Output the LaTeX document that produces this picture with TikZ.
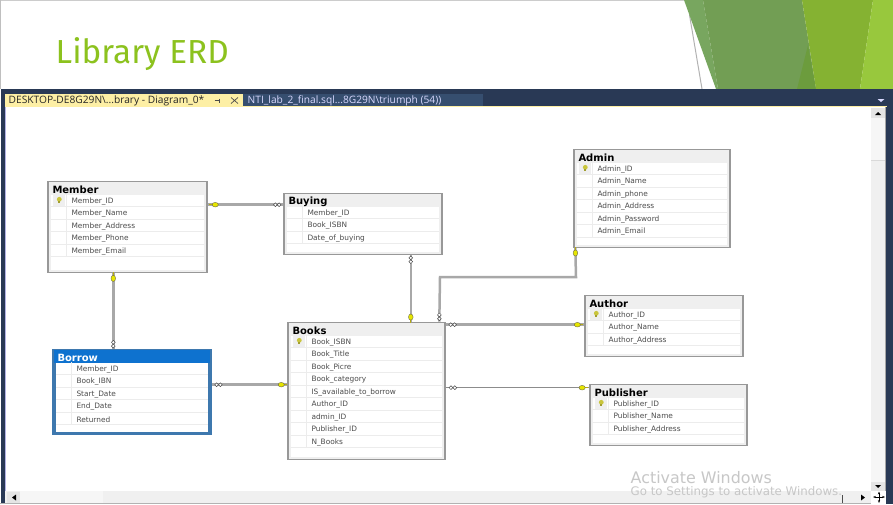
\documentclass[tikz,border=0pt]{standalone}
\usepackage{fontspec}
\setmainfont{Open Sans}
\newfontfamily\headfont{Fira Sans}
\newfontfamily\tablefont{DejaVu Sans}
\usetikzlibrary{arrows.meta}
\definecolor{framecol}{HTML}{293955}
\definecolor{tabcol}{HTML}{FDEFA5}
\definecolor{othertab}{HTML}{364E6F}
\definecolor{titlecol}{HTML}{8CC21E}
\definecolor{tablegray}{HTML}{989898}
\definecolor{chromecol}{HTML}{EFEFEF}
\definecolor{rowline}{HTML}{ECECEC}
\definecolor{relcol}{HTML}{A8A8A8}
\definecolor{keycol}{HTML}{E6E600}
\definecolor{shaftcol}{HTML}{B9AE10}
\definecolor{bulbcol}{HTML}{C9C53C}
\definecolor{selblue}{HTML}{0E72CF}
\definecolor{selborder}{HTML}{3E78AE}
\definecolor{scrollcol}{HTML}{F0F0F0}
\definecolor{greena}{HTML}{78A65F}
\definecolor{greenb}{HTML}{729E54}
\definecolor{greenc}{HTML}{85B232}
\definecolor{greend}{HTML}{98C83D}
\definecolor{greene}{HTML}{6C9C3D}
\tikzset{
	tablebox/.style={draw=tablegray,line width=1.4pt,fill=chromecol,rectangle,inner sep=0pt,anchor=north west},
	tabletitle/.style={font=\tablefont\fontsize{10}{10}\selectfont\bfseries,inner sep=0pt,anchor=west,text=black},
	selectedbox/.style={draw=selborder,fill=selborder,path picture={\fill[selblue] (path picture bounding box.north west) rectangle ([yshift=-14pt]path picture bounding box.north east);}},
	rowtext/.style={font=\tablefont\fontsize{7.4}{7.4}\selectfont,inner sep=0pt,anchor=west,text=black!70},
	relline/.style={draw=relcol,line width=2.5pt},
	tabtext/.style={font=\fontsize{10.2}{10.2}\selectfont,inner sep=0pt,anchor=west},
	watermark/.style={font=\tablefont,inner sep=0pt,anchor=west,text=black!22},
	keyend/.pic={
		\draw[draw=shaftcol,line width=1.3pt] (-6,0) -- (0,0);
		\draw[draw=black!65!yellow,line width=.4pt,fill=keycol] (0,0) ellipse (3.1 and 2.3);
	},
	manyend/.pic={
		\draw[draw=black!70,line width=.5pt,fill=white] (-1.9,0) circle (1.9);
		\draw[draw=black!70,line width=.5pt,fill=white] (1.9,0) circle (1.9);
	},
}
% name, x, y, width, height, title, rows, title colour, extra style
\newcommand{\ertable}[9]{
	\node (#1) [tablebox,#9,minimum width=#4pt,minimum height=#5pt] at (#2-.7,#3-.3) {};
	\fill[white] ([shift={(3.5,14)}]#1.north west) rectangle ([shift={(-3.5,-3.5)}]#1.south east);
	\node (#1title) [tabletitle,text=#8] at ([shift={(5,8.8)}]#1.north west) {#6};
	\foreach \rowlabel [count=\rowidx] in {#7} {
		\node (#1r\rowidx) [rowtext] at ([shift={(24,\rowidx*12.5+8.3)}]#1.north west) {\rowlabel};
		\draw[rowline,line width=.5pt] ([shift={(3.5,\rowidx*12.5+13.5)}]#1.north west) -- ([shift={(-3.5,\rowidx*12.5+13.5)}]#1.north east);
		\draw[rowline,line width=.5pt] ([shift={(19,\rowidx*12.5+1)}]#1.north west) -- ([shift={(19,\rowidx*12.5+13.5)}]#1.north west);
	}
}
% primary key mark in the first row
\newcommand{\keymark}[1]{
	\fill[chromecol] ([shift={(6,14.5)}]#1.north west) rectangle ([shift={(18,25)}]#1.north west);
	\fill[bulbcol] ([shift={(12,18.6)}]#1.north west) circle (2.4);
	\fill[bulbcol!80!black] ([shift={(11,20)}]#1.north west) rectangle ([shift={(13,22.6)}]#1.north west);
}

\begin{document}
\begin{tikzpicture}[x=1pt,y=-1pt]
	\useasboundingbox (0,0) rectangle (893,504);
	\fill[white] (0,0) rectangle (893,504);
	\fill[black!20] (0,0) rectangle (893,1);
	\fill[black!25] (0,0) rectangle (1,89);

	% green corner
	\fill[black!30] (689,15) -- (701.5,89) -- (702.5,89) -- (690,15) -- cycle;
	\fill[greena] (684,0) -- (703,0) -- (718,89) -- (716,89) -- cycle;
	\fill[greenb] (703,0) -- (802,0) -- (816,89) -- (718,89) -- cycle;
	\fill[greene] (808,45) -- (816,89) -- (797,89) -- cycle;
	\fill[greenc] (802,0) -- (873,0) -- (860,89) -- (816,89) -- cycle;
	\fill[greend] (873,0) -- (893,0) -- (893,89) -- (860,89) -- cycle;

	\node (slidetitle) [font=\headfont\fontsize{33.3}{33.3}\selectfont,text=titlecol,inner sep=0pt,anchor=west] at (55.5,54) {Library ERD};

	% window frame
	\fill[framecol] (1,89) rectangle (893,107);
	\fill[framecol] (1,107) rectangle (5,503);
	\fill[black!35!blue!30!white] (5,107) rectangle (6,491);
	\fill[framecol] (886,107) rectangle (893,504);
	\fill[black!35] (885,107) rectangle (886,491);
	\fill[tabcol] (5,94) rectangle (243,107);
	\fill[othertab] (243,94) rectangle (483,106);
	\fill[tabcol] (5,106) rectangle (887,107);
	\node (activetab) [tabtext,text=black!85] at (8.5,100.5) {DESKTOP-DE8G29N\textbackslash...brary - Diagram\_0*};
	\node (othertabtext) [tabtext,text=white!85!blue] at (247.5,100.5) {NTI\_lab\_2\_final.sql...8G29N\textbackslash triumph (54))};
	\draw[black!70,line width=.6pt] (214.5,100.5) -- (220,100.5) (219,98.5) -- (219,102.5) (215,100) -- (215,101);
	\draw[black!70,line width=.7pt] (231,97.5) -- (238,103.5) (238,97.5) -- (231,103.5);
	\fill[white!85!blue] (877.5,99) -- (884.5,99) -- (881,102) -- cycle;

	% scroll bars
	\fill[scrollcol!60!white] (871,108) rectangle (885,483);
	\fill[scrollcol] (871,160) rectangle (885,430);
	\draw[black!15,line width=.5pt] (871,160) -- (885,160);
	\fill[black!10] (871,108) rectangle (885,118);
	\fill[black] (875,115) -- (881,115) -- (878,112) -- cycle;
	\fill[black!10] (871,482) rectangle (885,491);
	\fill[black] (875,485) -- (881,485) -- (878,488) -- cycle;
	\fill[scrollcol] (5,491) rectangle (871,503);
	\fill[scrollcol!60!white] (20,491) rectangle (103,503);
	\fill[black!30] (0,503) rectangle (886,504);
	\fill[black!10] (7,492) rectangle (20,503);
	\fill[black] (16,494.5) -- (16,500.5) -- (12,497.5) -- cycle;
	\fill[black] (861,494.5) -- (861,500.5) -- (865,497.5) -- cycle;
	\draw[black!70,line width=.7pt] (842,495) -- (842,503);
	\fill[white] (871,491) rectangle (886,504);
	\draw[{Stealth[length=3pt]}-{Stealth[length=3pt]},line width=.6pt] (873,497) -- (885,497);
	\draw[{Stealth[length=3pt]}-{Stealth[length=3pt]},line width=.6pt] (879,491.5) -- (879,503);

	% tables
	\ertable{member}{48}{181}{159}{91}{Member}{Member\_ID,Member\_Name,Member\_Address,Member\_Phone,Member\_Email}{black}{}
	\ertable{buying}{284}{193}{158}{61}{Buying}{Member\_ID,Book\_ISBN,Date\_of\_buying}{black}{}
	\ertable{admin}{574}{149}{156}{98}{Admin}{Admin\_ID,Admin\_Name,Admin\_phone,Admin\_Address,Admin\_Password,Admin\_Email}{black}{}
	\ertable{author}{585}{295}{158}{61}{Author}{Author\_ID,Author\_Name,Author\_Address}{black}{}
	\ertable{publisher}{590}{384}{157}{61}{Publisher}{Publisher\_ID,Publisher\_Name,Publisher\_Address}{black}{}
	\ertable{books}{288}{322}{157}{137}{Books}{Book\_ISBN,Book\_Title,Book\_Picre,Book\_category,IS\_available\_to\_borrow,Author\_ID,admin\_ID,Publisher\_ID,N\_Books}{black}{}
	\ertable{borrow}{53}{349}{158}{85}{Borrow}{Member\_ID,Book\_IBN,Start\_Date,End\_Date,Returned}{white}{selectedbox}
	\keymark{member}
	\keymark{admin}
	\keymark{author}
	\keymark{publisher}
	\keymark{books}

	% relations
	\draw[relline] ([shift={(0,24)}]member.north east) -- pic[pos=.1]{keyend} pic[pos=.92]{manyend} ([shift={(0,12)}]buying.north west);
	\draw[relline] ([shift={(66,0)}]member.south west) -- pic[pos=.07,rotate=-90]{keyend} pic[pos=.94,rotate=90]{manyend} ([shift={(61,0)}]borrow.north west);
	\draw[relline] ([shift={(0,36)}]borrow.north east) -- pic[pos=.09]{manyend} pic[pos=.92,rotate=180]{keyend} ([shift={(0,63)}]books.north west);
	\draw[relline] ([shift={(127.5,0)}]buying.south west) -- pic[pos=.07,rotate=90]{manyend} pic[pos=.93,rotate=90]{keyend} ([shift={(123.5,0)}]books.north west);
	\coordinate (adminbendA) at (440,277);
	\coordinate (adminbendB) at (576,277);
	\draw[relline] ([shift={(152,0)}]books.north west) -- pic[pos=.11,rotate=90]{manyend} (adminbendA) -- (adminbendB) -- pic[pos=.83,rotate=-90]{keyend} ([shift={(2,0)}]admin.south west);
	\draw[relline] ([shift={(0,3)}]books.north east) -- pic[pos=.05]{manyend} pic[pos=.95,rotate=180]{keyend} ([shift={(0,30)}]author.north west);
	\draw[relline,line width=1.2pt,draw=black!45] ([shift={(0,66)}]books.north east) -- pic[pos=.05]{manyend} pic[pos=.95,rotate=180]{keyend} ([shift={(0,4)}]publisher.north west);

	% watermark
	\node (activatetext) [watermark,font=\tablefont\fontsize{15.9}{15.9}\selectfont] at (630.5,478) {Activate Windows};
	\node (settingstext) [watermark,font=\tablefont\fontsize{11.8}{11.8}\selectfont] at (630.5,492.5) {Go to Settings to activate Windows.};
\end{tikzpicture}
\end{document}
